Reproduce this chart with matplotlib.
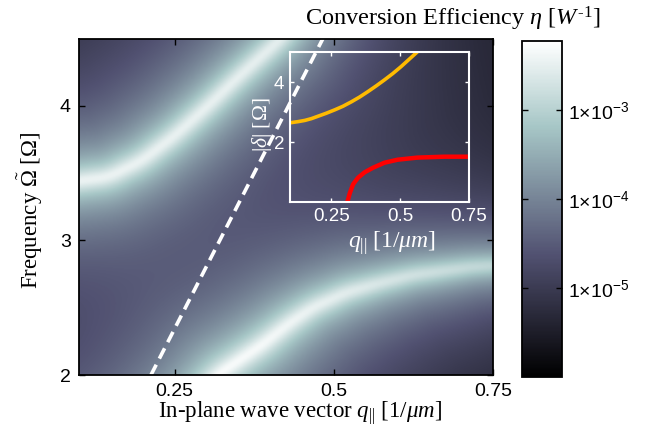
import numpy as np
import matplotlib
matplotlib.use('Agg')
import matplotlib.pyplot as plt
from matplotlib.colors import LogNorm
from matplotlib.ticker import FixedLocator, FixedFormatter, NullLocator

# ---------------- data ----------------
# centre of the upper bright band (main map)
upper_q = [0.00, 0.099, 0.146, 0.198, 0.251, 0.303, 0.345, 0.387, 0.413, 0.45, 0.52, 0.75]
upper_w = [3.40, 3.44, 3.47, 3.59, 3.78, 4.00, 4.19, 4.37, 4.48, 4.66, 5.05, 6.30]
upper_amp = [3.6e-3, 3.6e-3, 3.6e-3, 3.5e-3, 3.4e-3, 3.3e-3, 3.2e-3, 3.1e-3, 3.0e-3, 2.4e-3, 9e-4, 1e-4]
# centre of the lower bright band (main map)
lower_q = [0.18, 0.24, 0.28, 0.318, 0.387, 0.43, 0.468, 0.52, 0.572, 0.625, 0.717, 0.85]
lower_w = [1.35, 1.60, 1.80, 2.00, 2.22, 2.38, 2.50, 2.61, 2.68, 2.74, 2.80, 2.84]
lower_amp = [5e-3, 5e-3, 5e-3, 5e-3, 4.6e-3, 4.0e-3, 3.4e-3, 2.8e-3, 2.2e-3, 1.8e-3, 1.3e-3, 8e-4]
band_width = 0.052
# dashed light line
light_q = [0.213, 0.483]
light_w = [2.0, 4.5]
# inset curves
orange_q = [0.10, 0.130, 0.154, 0.178, 0.202, 0.232, 0.262, 0.292, 0.323, 0.353,
            0.383, 0.413, 0.443, 0.473, 0.503, 0.533, 0.563]
orange_d = [2.65, 2.69, 2.73, 2.79, 2.87, 2.97, 3.08, 3.20, 3.35, 3.51,
            3.69, 3.88, 4.08, 4.29, 4.52, 4.77, 5.02]
red_q = [0.308, 0.317, 0.329, 0.347, 0.371, 0.401, 0.443, 0.491, 0.563, 0.660, 0.746]
red_d = [0.0, 0.30, 0.60, 0.82, 1.00, 1.15, 1.32, 1.42, 1.49, 1.52, 1.52]

main_xticks = [0.25, 0.5, 0.75]
main_xticklabels = ['0.25', '0.5', '0.75']
main_yticks = [2, 3, 4]
inset_xticks = [0.25, 0.5, 0.75]
inset_yticks = [2, 4]
cbar_ticks = [1e-5, 1e-4, 1e-3]
cbar_labels = [r'$\mathsf{1×10^{-5}}$', r'$\mathsf{1×10^{-4}}$', r'$\mathsf{1×10^{-3}}$']

# ---------------- style ----------------
plt.rcParams['font.family'] = ['Liberation Sans', 'DejaVu Sans']
plt.rcParams['mathtext.fontset'] = 'custom'
plt.rcParams['mathtext.rm'] = 'Liberation Serif'
plt.rcParams['mathtext.it'] = 'Liberation Serif:italic'
plt.rcParams['mathtext.sf'] = 'Liberation Sans'
plt.rcParams['mathtext.bf'] = 'Liberation Serif:bold'
SERIF = ['Liberation Serif', 'DejaVu Serif']

W_PX, H_PX = 647, 442
fig = plt.figure(figsize=(W_PX / 100, H_PX / 100), dpi=100)

def px_axes(l, t, r, b):
    return [l / W_PX, 1 - b / H_PX, (r - l) / W_PX, (b - t) / H_PX]

MAIN = (79, 38.5, 493, 375)
ax = fig.add_axes(px_axes(*MAIN))

# ---------------- build the efficiency map ----------------
q = np.linspace(0.1, 0.75, 540)
w = np.linspace(2.0, 4.5, 420)
Q, Wg = np.meshgrid(q, w)
scale = ((MAIN[2] - MAIN[0]) / 0.65) / ((MAIN[3] - MAIN[1]) / 2.5)  # q -> w units on screen
Xs = Q * scale

def band_field(bq, bw, ba):
    qs = np.linspace(bq[0], bq[-1], 500)
    ws = np.interp(qs, bq, bw)
    As = np.interp(qs, bq, ba)
    k = 21
    ker = np.ones(k) / k
    wsm = np.convolve(np.pad(ws, k // 2, mode='edge'), ker, mode='valid')
    field = np.zeros_like(Q)
    g2 = band_width ** 2
    for xs_, ws_, a_ in zip(qs * scale, wsm, As):
        d2 = (Xs - xs_) ** 2 + (Wg - ws_) ** 2
        np.maximum(field, a_ * g2 / (d2 + g2), out=field)
    return field

eta = band_field(upper_q, upper_w, upper_amp) + band_field(lower_q, lower_w, lower_amp)

norm = LogNorm(vmin=1e-6, vmax=6e-3)
im = ax.imshow(eta, origin='lower', extent=[0.1, 0.75, 2.0, 4.5], aspect='auto',
               cmap='bone', norm=norm, interpolation='bilinear')

ax.plot(light_q, light_w, color='white', lw=2.6, dashes=(3.2, 1.9))

ax.set_xlim(0.1, 0.75)
ax.set_ylim(2.0, 4.5)
ax.xaxis.set_major_locator(FixedLocator(main_xticks))
ax.xaxis.set_major_formatter(FixedFormatter(main_xticklabels))
ax.yaxis.set_major_locator(FixedLocator(main_yticks))
ax.tick_params(direction='in', top=True, right=True, length=4, width=1,
               labelsize=14, pad=6)
for s in ax.spines.values():
    s.set_linewidth(1.3)

fig.text(300 / W_PX, 1 - 413 / H_PX, r'In-plane wave vector $q_{||}\ [1/\mu m]$',
         fontsize=16.5, family=SERIF, ha='center', va='center')
fig.text(30 / W_PX, 1 - 210 / H_PX, r'Frequency $\tilde{\Omega}$ [$\Omega$]',
         fontsize=16.5, family=SERIF, ha='center', va='center', rotation=90)

fig.text(453 / W_PX, 1 - 19 / H_PX, r'Conversion Efficiency $\eta\ [W^{\text{-1}}]$',
         ha='center', va='center', fontsize=17.5, family=SERIF)

# ---------------- colorbar ----------------
cax = fig.add_axes(px_axes(522, 41, 562, 377))
cb = fig.colorbar(im, cax=cax)
cax.yaxis.set_major_locator(FixedLocator(cbar_ticks))
cax.yaxis.set_major_formatter(FixedFormatter(cbar_labels))
cax.yaxis.set_minor_locator(NullLocator())
cax.tick_params(direction='in', left=True, right=True, length=4, width=1,
                labelsize=14, pad=4)
cb.outline.set_linewidth(1.3)

# ---------------- inset ----------------
ins = fig.add_axes(px_axes(290, 52.3, 469, 202.3))
ins.set_facecolor('none')
ins.plot(orange_q, orange_d, color='#FFBB00', lw=2.6, solid_capstyle='butt')
ins.plot(red_q, red_d, color='#FF0000', lw=3.2, solid_capstyle='butt')
ins.set_xlim(0.1, 0.75)
ins.set_ylim(0, 5)
ins.xaxis.set_major_locator(FixedLocator(inset_xticks))
ins.xaxis.set_major_formatter(FixedFormatter(main_xticklabels))
ins.yaxis.set_major_locator(FixedLocator(inset_yticks))
ins.tick_params(direction='in', top=True, right=True, length=3, width=1,
                labelsize=13.5, colors='white', pad=4)
for s in ins.spines.values():
    s.set_color('white')
    s.set_linewidth(1.5)
fig.text(392 / W_PX, 1 - 243 / H_PX, r'$q_{||}\ [1/\mu m]$', fontsize=17,
         color='white', ha='center', va='center')
fig.text(262 / W_PX, 1 - 125 / H_PX, r'$|\delta|$ [$\Omega$]', fontsize=15.5,
         color='white', family=SERIF, ha='center', va='center', rotation=90)

fig.savefig('out.png', dpi=100)
